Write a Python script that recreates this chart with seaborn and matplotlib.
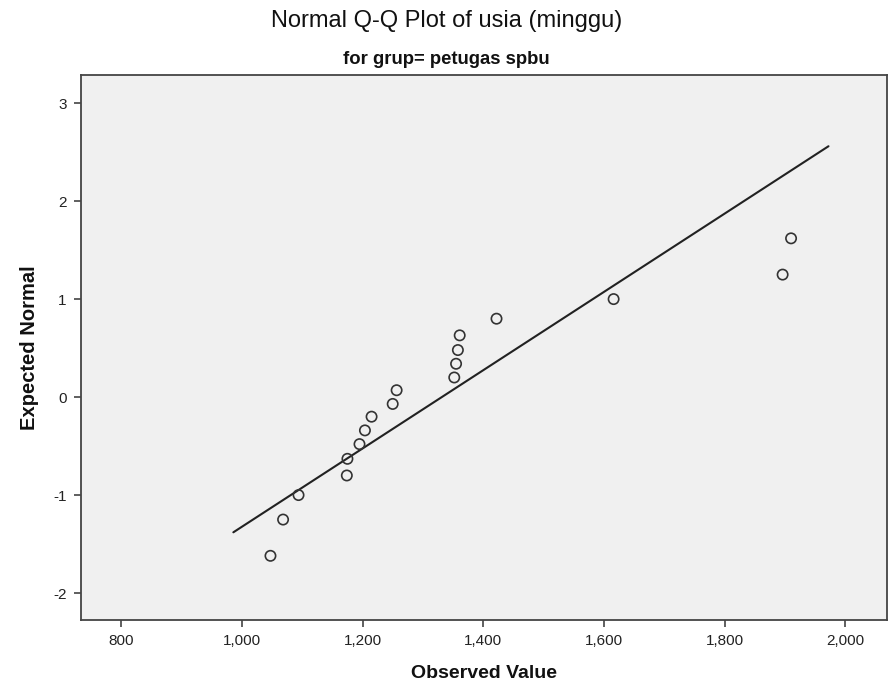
import matplotlib
matplotlib.use("Agg")
import matplotlib.pyplot as plt
import seaborn as sns
import pandas as pd
from matplotlib.ticker import FuncFormatter, FixedLocator

# Data
observed = [1047.5, 1068.4, 1094, 1174, 1175, 1195, 1204, 1215, 1250, 1256.5,
            1352, 1355, 1358, 1361, 1422, 1616, 1896, 1910]
expected = [-1.62, -1.25, -1.00, -0.80, -0.63, -0.48, -0.34, -0.20, -0.07, 0.07,
            0.20, 0.34, 0.48, 0.63, 0.80, 1.00, 1.25, 1.62]
line_x = [986, 1972]
line_y = [-1.38, 2.56]
x_ticks = [800, 1000, 1200, 1400, 1600, 1800, 2000]
y_ticks = [-2, -1, 0, 1, 2, 3]

title = "Normal Q-Q Plot of usia (minggu)"
subtitle = "for grup= petugas spbu"
xlabel = "Observed Value"
ylabel = "Expected Normal"

sns.set_theme(style="ticks")
plt.rcParams['font.family'] = ['Liberation Sans', 'DejaVu Sans']

fig = plt.figure(figsize=(8.96, 6.89), dpi=100)
ax = fig.add_axes([0.090, 0.100, 0.900, 0.791])
ax.set_facecolor("#f0f0f0")

pts = pd.DataFrame({"observed": observed, "expected": expected})
ln = pd.DataFrame({"x": line_x, "y": line_y})

sns.lineplot(data=ln, x="x", y="y", ax=ax, color="#222222", linewidth=1.5)
sns.scatterplot(data=pts, x="observed", y="expected", ax=ax, s=55,
                facecolor="none", edgecolor="#333333", linewidth=1.2, zorder=3)

ax.set_xlim(733, 2069)
ax.set_ylim(-2.276, 3.286)
ax.xaxis.set_major_locator(FixedLocator(x_ticks))
ax.yaxis.set_major_locator(FixedLocator(y_ticks))
ax.xaxis.set_major_formatter(FuncFormatter(lambda v, p: f"{int(v):,}"))
ax.yaxis.set_major_formatter(FuncFormatter(lambda v, p: f"{int(v)}"))

for s in ax.spines.values():
    s.set_color("#444444")
    s.set_linewidth(1.3)
ax.tick_params(axis="both", direction="out", length=5, width=1.2, color="#444444",
               labelsize=11, labelcolor="#222222", pad=5)
ax.tick_params(axis="x", pad=5)

ax.set_xlabel(xlabel, fontsize=14, fontweight="bold", labelpad=12, color="#111111")
ax.set_ylabel(ylabel, fontsize=14.5, fontweight="bold", labelpad=10, color="#111111")

fig.text(0.498, 0.969, title, ha="center", va="center", fontsize=17, color="#111111")
fig.text(0.498, 0.913, subtitle, ha="center", va="center", fontsize=13.3,
         fontweight="bold", color="#111111")

fig.savefig("out.png", dpi=100)
